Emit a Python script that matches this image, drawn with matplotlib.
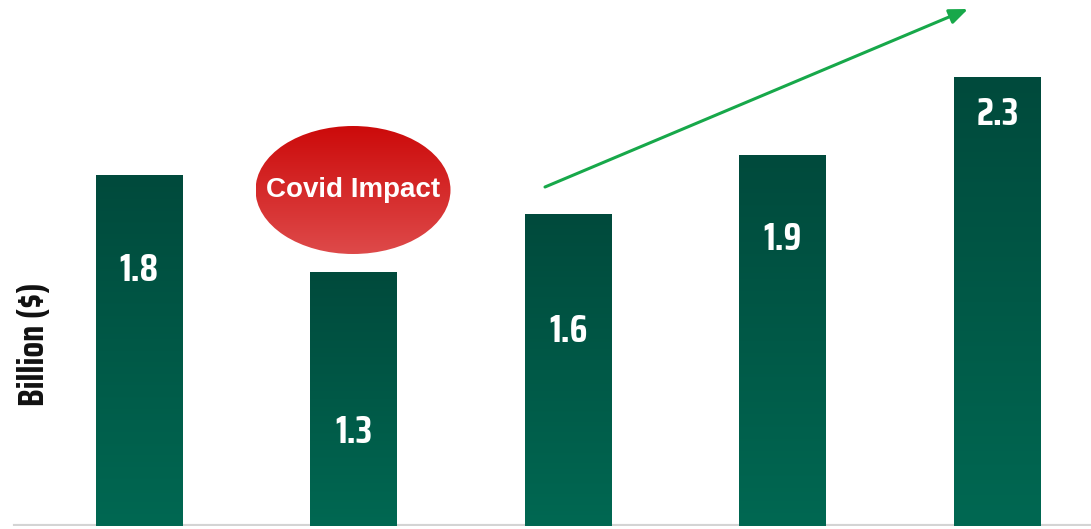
import numpy as np
import matplotlib
matplotlib.use("Agg")
import matplotlib.pyplot as plt
from matplotlib.colors import LinearSegmentedColormap
from matplotlib.patches import Ellipse

years = ["Y1", "Y2", "Y3", "Y4", "Y5"]
values = [1.8, 1.3, 1.6, 1.9, 2.3]
value_labels = ["1.8", "1.3", "1.6", "1.9", "2.3"]
label_heights = [1.31, 0.48, 1.0, 1.47, 2.11]

cond = ["Saira Condensed", "DejaVu Sans"]

W, H = 1091, 529
fig = plt.figure(figsize=(W / 100, H / 100), dpi=100)
px_per_unit = 195.0
base_px = 526
ax = fig.add_axes([0, (H - base_px) / H, 1, base_px / H])
spacing = 214.6
x0 = 139
ax.set_xlim(-x0 / spacing, (W - x0) / spacing)
ax.set_ylim(0, base_px / px_per_unit)
ax.axis("off")

bar_cmap = LinearSegmentedColormap.from_list("g", ["#016852", "#004a3c"])
bw = 0.405
grad = np.linspace(0, 1, 256).reshape(-1, 1)
for i, v in enumerate(values):
    ax.imshow(grad, cmap=bar_cmap, origin="lower", aspect="auto",
              extent=[i - bw / 2, i + bw / 2, 0, v], zorder=2, vmin=0, vmax=1)
    ax.text(i, label_heights[i], value_labels[i], color="white", ha="center", va="center",
            fontsize=27, fontweight="bold", family=cond, zorder=4)

ax.axhline(0, xmin=15 / W, xmax=1, color="#d4d4d4", lw=3, zorder=1)

# Covid ellipse
ecx, ecy = (353 - x0) / spacing, (base_px - 190) / px_per_unit
ew, eh = 195 / spacing, 128 / px_per_unit
ell = Ellipse((ecx, ecy), ew, eh, facecolor="none", edgecolor="none")
ax.add_patch(ell)
red_cmap = LinearSegmentedColormap.from_list("r", ["#de4a4a", "#cc0a0a"])
im = ax.imshow(grad, cmap=red_cmap, origin="lower", aspect="auto",
               extent=[ecx - ew / 2, ecx + ew / 2, ecy - eh / 2, ecy + eh / 2], zorder=3)
im.set_clip_path(ell)
ax.text(ecx, ecy, "Covid Impact", color="white", ha="center", va="center",
        fontsize=20, fontweight="bold", family="Liberation Sans", zorder=4)

# Growth arrow
ax.annotate("", xy=((968 - x0) / spacing, (base_px - 9) / px_per_unit),
            xytext=((545 - x0) / spacing, (base_px - 187) / px_per_unit),
            arrowprops=dict(arrowstyle="-|>,head_length=1.1,head_width=0.45",
                            color="#17a84a", lw=2.2, shrinkA=0, shrinkB=0), zorder=5)

fig.text(34 / W, 1 - 344 / H, "Billion ($)", rotation=90, ha="center", va="center",
         fontsize=26, fontweight="bold", family=cond, color="#111111")

fig.savefig("out.png", dpi=100, facecolor="white")
